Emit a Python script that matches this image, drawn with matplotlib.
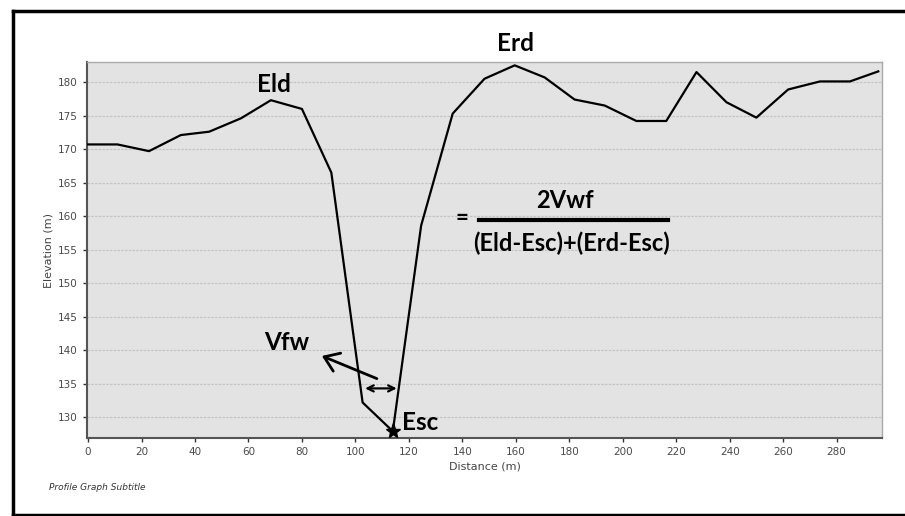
import matplotlib
matplotlib.use("Agg")
import matplotlib.pyplot as plt
from matplotlib.lines import Line2D
import numpy as np

# profile
distance = [0, 11, 22.8, 34.7, 45.3, 57.2, 68.4, 80, 91, 102.7, 114, 124.6, 136.4,
            148.3, 159.6, 170.8, 182, 193.3, 205.1, 216.3, 227.6, 238.8, 250,
            261.9, 273.8, 285, 295.6]
elevation = [170.7, 170.7, 169.7, 172.1, 172.6, 174.6, 177.3, 176.0, 166.5, 132.2,
             127.9, 158.6, 175.3, 180.5, 182.5, 180.7, 177.4, 176.5, 174.2, 174.2,
             181.5, 177.0, 174.7, 178.9, 180.1, 180.1, 181.6]
esc_point = (114, 127.9)
xticks = list(range(0, 281, 20))
yticks = list(range(130, 181, 5))

label_font = "Lato"

fig = plt.figure(figsize=(9.05, 5.16), dpi=100)
ax = fig.add_axes([87/905, 78/516, 795/905, 376/516])
ax.set_facecolor("#e3e3e3")

ax.plot(distance, elevation, color="black", lw=1.6, zorder=3)
ax.plot(*esc_point, marker="*", color="black", markersize=11, zorder=4, clip_on=False)

ax.set_xlim(-0.4, 297)
ax.set_ylim(126.9, 183)
ax.set_xticks(xticks)
ax.set_yticks(yticks)
ax.tick_params(labelsize=7.5, labelcolor="#4a4a4a", color="#333333", length=3, width=1)
ax.grid(axis="y", color="#c4c4c4", lw=0.9, linestyle=(0, (2, 1)))
ax.set_axisbelow(True)

for s in ["left", "bottom"]:
    ax.spines[s].set_color("#555555")
    ax.spines[s].set_linewidth(1.5)
for s in ["top", "right"]:
    ax.spines[s].set_color("#aaaaaa")
    ax.spines[s].set_linewidth(1.0)

ax.set_xlabel("Distance (m)", fontsize=8, color="#444444", labelpad=3)
ax.set_ylabel("Elevation (m)", fontsize=8, color="#444444", labelpad=3)

# annotations
kw = dict(fontfamily=label_font, fontweight="bold", ha="center", va="center", color="black")
ax.text(160, 185.8, "Erd", fontsize=17.5, clip_on=False, **kw)
ax.text(69.7, 179.6, "Eld", fontsize=17.5, **kw)
ax.text(74.2, 141.1, "Vfw", fontsize=17.5, **kw)
ax.text(117.3, 129.2, "Esc", fontsize=17.5, fontfamily=label_font, fontweight="bold",
        ha="left", va="center")

ax.text(140, 159.7, "=", fontsize=16, **kw)
ax.text(178.5, 162.4, "2Vwf", fontsize=17, **kw)
ax.plot([146.4, 216.9], [159.4, 159.4], color="black", lw=3)
ax.text(181, 156.0, "(Eld-Esc)+(Erd-Esc)", fontsize=17, **kw)

ax.annotate("", xy=(86.5, 139.3), xytext=(109, 135.6),
            arrowprops=dict(arrowstyle="->,head_length=0.5,head_width=0.35", lw=2,
                            color="black", mutation_scale=20))
ax.annotate("", xy=(102.6, 134.3), xytext=(116.5, 134.3),
            arrowprops=dict(arrowstyle="<->", lw=1.6, color="black", mutation_scale=11))

fig.text(49/905, 1 - 488/516, "Profile Graph Subtitle", fontsize=6.5, style="italic",
         color="#333333", va="center")

# black frame of the screenshot
fig.add_artist(Line2D([13/905, 1], [1 - 11/516] * 2, color="black", lw=2.5))
fig.add_artist(Line2D([13/905] * 2, [1 - 11/516, 1 - 515/516], color="black", lw=2.5))
fig.add_artist(Line2D([13/905, 1], [1 - 515/516] * 2, color="black", lw=2.5))

fig.savefig("out.png", dpi=100)
